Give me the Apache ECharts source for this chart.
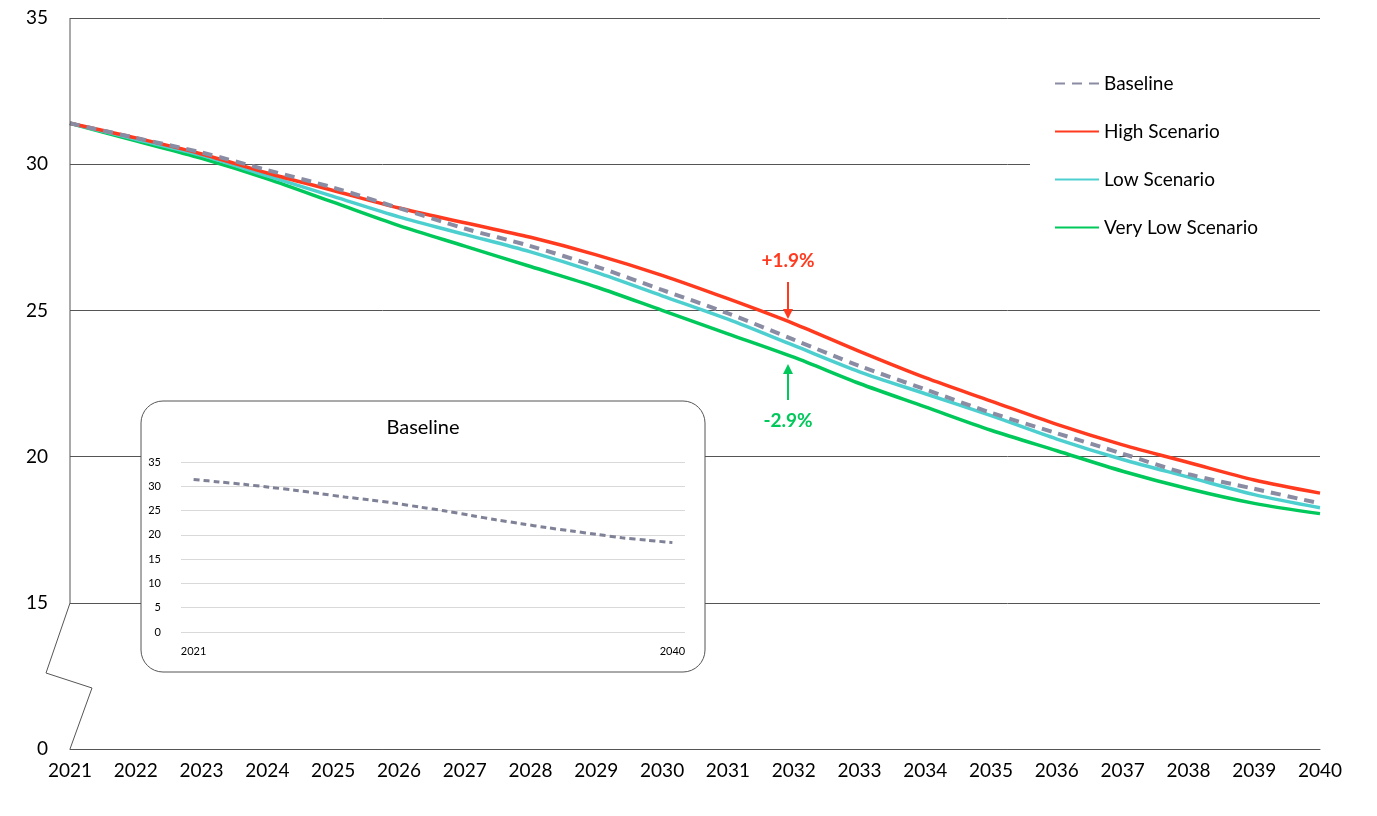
<!DOCTYPE html>
<html>
<head>
<meta charset="utf-8">
<script src="https://cdn.jsdelivr.net/npm/echarts@6/dist/echarts.min.js"></script>
<style>html,body{margin:0;padding:0;background:#fff}#main{width:1377px;height:816px}</style>
</head>
<body>
<div id="main"></div>
<script>
var years = ["2021","2022","2023","2024","2025","2026","2027","2028","2029","2030","2031","2032","2033","2034","2035","2036","2037","2038","2039","2040"];
var baseline = [31.4,30.9,30.4,29.8,29.2,28.5,27.8,27.2,26.5,25.7,24.9,24.0,23.1,22.3,21.5,20.8,20.1,19.4,18.9,18.4];
var high = [31.4,30.9,30.35,29.7,29.1,28.5,28.0,27.5,26.9,26.2,25.4,24.55,23.6,22.7,21.9,21.1,20.4,19.8,19.2,18.75];
var low = [31.4,30.85,30.3,29.6,28.9,28.2,27.6,27.0,26.3,25.5,24.7,23.8,22.9,22.15,21.4,20.6,19.9,19.3,18.7,18.25];
var veryLow = [31.4,30.8,30.2,29.5,28.7,27.9,27.2,26.5,25.8,25.0,24.2,23.4,22.5,21.7,20.9,20.2,19.5,18.9,18.4,18.05];
// main axis is broken: bottom tick stands for 0, then 15..35
var mainTicks = {10: "0", 15: "15", 20: "20", 25: "25", 30: "30", 35: "35"};

var font = "Lato";
var myChart = echarts.init(document.getElementById("main"));
var option = {
  animation: false,
  textStyle: {fontFamily: font},
  grid: [
    {left: 70, right: 57, top: 18, bottom: 67},
    {left: 181, right: 692, top: 462, bottom: 184}
  ],
  legend: {
    orient: "vertical",
    right: 57, top: 64,
    itemWidth: 44, itemHeight: 4, itemGap: 29,
    backgroundColor: "#fff",
    padding: [10, 62, 10, 24],
    itemStyle: {opacity: 0},
    textStyle: {fontSize: 19, color: "#000", fontFamily: font},
    data: ["Baseline", "High Scenario", "Low Scenario", "Very Low Scenario"]
  },
  xAxis: [
    {type: "category", gridIndex: 0, data: years, boundaryGap: false,
     axisLine: {lineStyle: {color: "#555"}}, axisTick: {show: false},
     axisLabel: {fontSize: 19, color: "#000", margin: 12, fontFamily: font}},
    {type: "category", gridIndex: 1, data: years, boundaryGap: true, z: 10,
     axisLine: {show: false}, axisTick: {show: false},
     axisLabel: {fontSize: 11, color: "#000", margin: 14, fontFamily: font,
       interval: function (i) { return i === 0 || i === years.length - 1; }}}
  ],
  yAxis: [
    {type: "value", gridIndex: 0, min: 10, max: 35, interval: 5,
     axisLine: {show: false}, axisTick: {show: false},
     splitLine: {lineStyle: {color: "#555", width: 1}},
     axisLabel: {fontSize: 19, color: "#000", margin: 22, fontFamily: font,
       formatter: function (v) { return mainTicks[v]; }}},
    {type: "value", gridIndex: 1, min: 0, max: 35, interval: 5, z: 10,
     axisLine: {show: false}, axisTick: {show: false},
     splitLine: {lineStyle: {color: "#d9d9d9"}},
     axisLabel: {fontSize: 11, color: "#000", margin: 20, fontFamily: font}}
  ],
  series: [
    {name: "Very Low Scenario", type: "line", data: veryLow, symbol: "none", smooth: 0.3, z: 3,
     lineStyle: {color: "#00c85a", width: 3.5}, itemStyle: {color: "#00c85a"}},
    {name: "Low Scenario", type: "line", data: low, symbol: "none", smooth: 0.3, z: 4,
     lineStyle: {color: "#4ecfcf", width: 3.5}, itemStyle: {color: "#4ecfcf"}},
    {name: "High Scenario", type: "line", data: high, symbol: "none", smooth: 0.3, z: 5,
     lineStyle: {color: "#ff3a1f", width: 3.5}, itemStyle: {color: "#ff3a1f"}},
    {name: "Baseline", type: "line", data: baseline, symbol: "none", smooth: 0.3, z: 6,
     lineStyle: {color: "#8a8ca3", width: 4, type: [10, 7]}, itemStyle: {color: "#8a8ca3"}},
    {name: "inset", type: "line", xAxisIndex: 1, yAxisIndex: 1, data: baseline, symbol: "none", smooth: 0.3, z: 12,
     lineStyle: {color: "#7f8197", width: 3, type: [6, 4]}}
  ],
  graphic: [
    // inset box
    {type: "rect", shape: {x: 141, y: 401, width: 564, height: 271, r: 22}, z: 1,
     style: {fill: "#fff", stroke: "#555", lineWidth: 1}},
    {type: "text", x: 423, y: 428, z: 10, style: {text: "Baseline", fontSize: 20, fontFamily: font, fill: "#000", align: "center", verticalAlign: "middle"}},
    // y axis with break
    {type: "polyline", z: 10, shape: {points: [[70, 18], [70, 603], [46, 673], [92, 688], [70, 749]]},
     style: {stroke: "#555", lineWidth: 1, fill: null}},
    // annotations
    {type: "text", x: 788, y: 261, z: 10, style: {text: "+1.9%", fontSize: 19, fontWeight: "bold", fontFamily: font, fill: "#ff3a1f", align: "center", verticalAlign: "middle"}},
    {type: "line", z: 10, shape: {x1: 788, y1: 282, x2: 788, y2: 312}, style: {stroke: "#ff3a1f", lineWidth: 2}},
    {type: "polygon", z: 10, shape: {points: [[783, 309], [793, 309], [788, 319]]}, style: {fill: "#ff3a1f"}},
    {type: "text", x: 788, y: 421, z: 10, style: {text: "-2.9%", fontSize: 19, fontWeight: "bold", fontFamily: font, fill: "#00c85a", align: "center", verticalAlign: "middle"}},
    {type: "line", z: 10, shape: {x1: 788, y1: 400, x2: 788, y2: 371}, style: {stroke: "#00c85a", lineWidth: 2}},
    {type: "polygon", z: 10, shape: {points: [[783, 374], [793, 374], [788, 364]]}, style: {fill: "#00c85a"}}
  ]
};
myChart.setOption(option);
</script>
</body>
</html>
